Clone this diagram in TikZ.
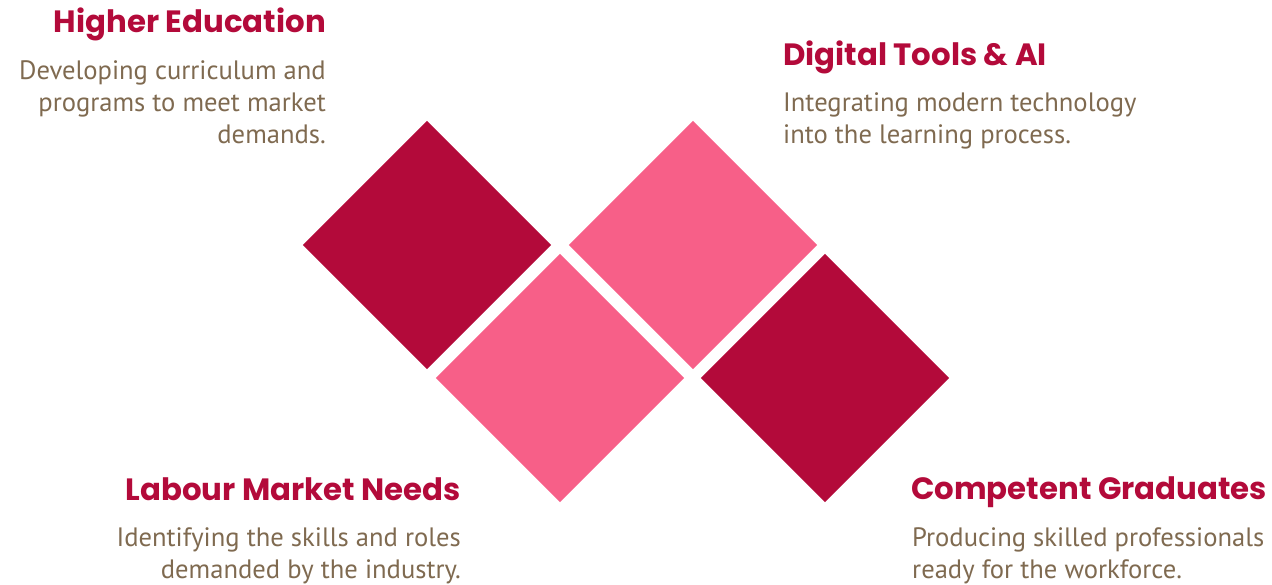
\documentclass[tikz,border=0pt]{standalone}
\usepackage{fontspec}
\setmainfont{PT Sans}
\newfontfamily\headfont{Poppins}[UprightFont=* Bold]
\usetikzlibrary{positioning}

\definecolor{darkrose}{HTML}{B30A3A}
\definecolor{pinkrose}{HTML}{F75F88}
\definecolor{mudbrown}{HTML}{7F6A50}

\begin{document}
\begin{tikzpicture}[x=1pt,y=-1pt,
	tile/.style={rectangle,rotate=45,inner sep=0pt,minimum size=175.4pt},
	head/.style={inner sep=0pt,text=darkrose,font=\headfont\fontsize{30.8}{36}\selectfont},
	blurb/.style={inner sep=0pt,text=mudbrown,font=\fontsize{26.6}{32}\selectfont}]
\useasboundingbox (0,0) rectangle (1272,584);

% the four tiles
\foreach \n/\x/\y/\c in {edu/427/245/darkrose,labour/560/378/pinkrose,digital/693/245/pinkrose,grads/825/378/darkrose}
	\node[tile,fill=\c] at (\x,\y) (\n) {};

% texts on the left (base = last line)
\node[head,anchor=base east] at (326,32) (eduT) {Higher Education};
\node[blurb,anchor=base east,align=right] at (326,143) (eduB) {Developing curriculum and\\programs to meet market\\demands.};
\node[head,anchor=base east] at (461,500) (labourT) {Labour Market Needs};
\node[blurb,anchor=base east,align=right] at (461,578) (labourB) {Identifying the skills and roles\\demanded by the industry.};

% texts on the right
\node[head,anchor=base west] at (783,65) (digitalT) {Digital Tools \& AI};
\node[blurb,anchor=base west,align=left] at (783,143) (digitalB) {Integrating modern technology\\into the learning process.};
\node[head,anchor=base west] at (911,499) (gradsT) {Competent Graduates};
\node[blurb,anchor=base west,align=left] at (912,578) (gradsB) {Producing skilled professionals\\ready for the workforce.};
\end{tikzpicture}
\end{document}
